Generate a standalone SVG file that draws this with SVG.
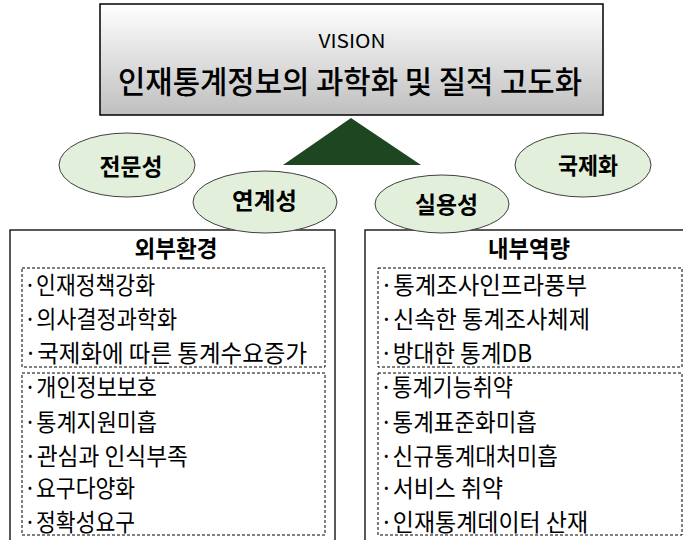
<svg xmlns="http://www.w3.org/2000/svg" width="683" height="540" viewBox="0 0 683 540">
<defs>
<linearGradient id="vg" x1="0" y1="0" x2="0" y2="1">
<stop offset="0" stop-color="#ffffff"/>
<stop offset="1" stop-color="#bfbfbf"/>
</linearGradient>
<style>
text{font-family:"Noto Sans CJK KR","Liberation Sans",sans-serif;fill:#000}
.oval{fill:#e2efda;stroke:#404040;stroke-width:1}
.ot{font-size:23px;font-weight:bold;text-anchor:middle}
.frame{fill:#fff;stroke:#000;stroke-width:1.3}
.dash{fill:none;stroke:#000;stroke-width:1;stroke-dasharray:3 2}
.hd{font-size:23px;font-weight:bold;text-anchor:middle}
.it{font-size:24px}
</style>
</defs>
<rect width="683" height="540" fill="#fff"/>
<g id="vision">
<rect x="100" y="4" width="503" height="111" fill="url(#vg)" stroke="#000" stroke-width="1.5"/>
<text x="352" y="48" font-size="18" text-anchor="middle" textLength="67" lengthAdjust="spacingAndGlyphs">VISION</text>
<text x="350" y="93" font-size="31" font-weight="500" text-anchor="middle" textLength="464" lengthAdjust="spacingAndGlyphs">인재통계정보의 과학화 및 질적 고도화</text>
</g>
<g id="connectors">
<polygon points="351,118 283,165 421,165" fill="#1e4620"/>
</g>
<g id="n-jeonmun">
<ellipse class="oval" cx="127" cy="165" rx="68" ry="32"/>
<text class="ot" x="131" y="175" textLength="63" lengthAdjust="spacingAndGlyphs">전문성</text>
</g>
<g id="n-gukje">
<ellipse class="oval" cx="583" cy="165" rx="68" ry="32"/>
<text class="ot" x="588" y="174" textLength="60" lengthAdjust="spacingAndGlyphs">국제화</text>
</g>
<g id="outer">
<rect class="frame" x="10" y="230" width="325" height="312"/>
<text class="hd" x="176" y="257" textLength="83" lengthAdjust="spacingAndGlyphs">외부환경</text>
<rect class="dash" x="22" y="268" width="303" height="99"/>
<rect class="dash" x="22" y="373" width="303" height="162"/>
<text class="it" x="24" y="294" textLength="131" lengthAdjust="spacingAndGlyphs">·인재정책강화</text>
<text class="it" x="24" y="328" textLength="153" lengthAdjust="spacingAndGlyphs">·의사결정과학화</text>
<text class="it" x="24" y="362" textLength="283" lengthAdjust="spacingAndGlyphs">·국제화에 따른 통계수요증가</text>
<text class="it" x="24" y="396" textLength="133" lengthAdjust="spacingAndGlyphs">·개인정보보호</text>
<text class="it" x="24" y="431" textLength="133" lengthAdjust="spacingAndGlyphs">·통계지원미흡</text>
<text class="it" x="24" y="465" textLength="164" lengthAdjust="spacingAndGlyphs">·관심과 인식부족</text>
<text class="it" x="24" y="497" textLength="111" lengthAdjust="spacingAndGlyphs">·요구다양화</text>
<text class="it" x="24" y="531" textLength="111" lengthAdjust="spacingAndGlyphs">·정확성요구</text>
</g>
<g id="inner">
<rect class="frame" x="365" y="230" width="320" height="312"/>
<text class="hd" x="529" y="257" textLength="82" lengthAdjust="spacingAndGlyphs">내부역량</text>
<rect class="dash" x="378" y="268" width="304" height="99"/>
<rect class="dash" x="378" y="373" width="304" height="162"/>
<text class="it" x="380" y="294" textLength="207" lengthAdjust="spacingAndGlyphs">·통계조사인프라풍부</text>
<text class="it" x="380" y="328" textLength="210" lengthAdjust="spacingAndGlyphs">·신속한 통계조사체제</text>
<text class="it" x="380" y="362" textLength="152" lengthAdjust="spacingAndGlyphs">·방대한 통계DB</text>
<text class="it" x="380" y="396" textLength="133" lengthAdjust="spacingAndGlyphs">·통계기능취약</text>
<text class="it" x="380" y="431" textLength="157" lengthAdjust="spacingAndGlyphs">·통계표준화미흡</text>
<text class="it" x="380" y="465" textLength="178" lengthAdjust="spacingAndGlyphs">·신규통계대처미흡</text>
<text class="it" x="380" y="497" textLength="123" lengthAdjust="spacingAndGlyphs">·서비스 취약</text>
<text class="it" x="380" y="531" textLength="208" lengthAdjust="spacingAndGlyphs">·인재통계데이터 산재</text>
</g>
<g id="n-yeongye">
<ellipse class="oval" cx="265" cy="202" rx="72" ry="31"/>
<text class="ot" x="264.5" y="209" textLength="65" lengthAdjust="spacingAndGlyphs">연계성</text>
</g>
<g id="n-silyong">
<ellipse class="oval" cx="442" cy="204" rx="67" ry="29"/>
<text class="ot" x="446.5" y="213" textLength="63" lengthAdjust="spacingAndGlyphs">실용성</text>
</g>
</svg>
